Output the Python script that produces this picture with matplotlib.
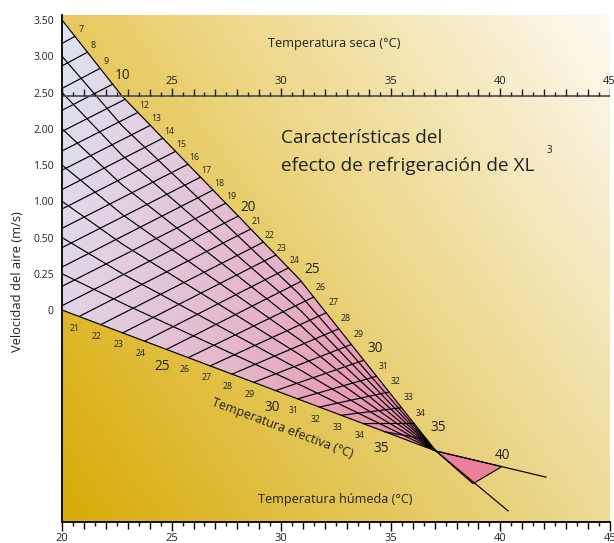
import numpy as np
import matplotlib
matplotlib.use('Agg')
import matplotlib.pyplot as plt
from matplotlib.colors import LinearSegmentedColormap, to_rgb
from matplotlib.patches import Polygon
from matplotlib.collections import LineCollection

plt.rcParams['font.family'] = ['Open Sans', 'DejaVu Sans']

# ---------------- data ----------------
velocity_labels = ['0', '0.25', '0.50', '1.00', '1.50', '2.00', '2.50', '3.00', '3.50']
velocity_pos = [0, 1, 2, 3, 4, 5, 6, 7, 8]

temp_ticks = [20, 25, 30, 35, 40, 45]
dry_tick_labels = ['', '25', '30', '35', '40', '45']
wet_tick_labels = ['20', '25', '30', '35', '40', '45']

et_values = [7, 8, 9, 10, 11, 12, 13, 14, 15, 16, 17, 18, 19, 20, 21,
             22, 23, 24, 25, 26, 27, 28, 29, 30, 31, 32, 33, 34, 35]
# dry temperature where each ET line meets the 3.50 m/s line
et_upper_T = [20.59, 21.16, 21.74, 22.31, 22.88, 23.46, 24.03, 24.60, 25.18,
              25.75, 26.32, 26.89, 27.47, 28.04, 28.61, 29.19, 29.76, 30.33,
              30.91, 31.48, 32.05, 32.63, 33.20, 33.77, 34.35, 34.92, 35.49,
              36.06, 36.64]
# wet temperature where each ET line meets the 0 m/s line (lines below 21 run off the scale)
et_lower_T = [6.82, 7.82, 8.81, 9.81, 10.81, 11.80, 12.80, 13.80, 14.79,
              15.79, 16.79, 17.79, 18.78, 19.78, 20.78, 21.77, 22.77, 23.77,
              24.77, 25.76, 26.76, 27.76, 28.75, 29.75, 30.75, 31.74, 32.74,
              33.74, 34.73]
et_upper_labels = [7, 8, 9, 10, 12, 13, 14, 15, 16, 17, 18, 19, 20, 21, 22,
                   23, 24, 25, 26, 27, 28, 29, 30, 31, 32, 33, 34, 35]
et_lower_labels = [21, 22, 23, 24, 25, 26, 27, 28, 29, 30, 31, 32, 33, 34, 35]
big_labels = [10, 20, 25, 30, 35, 40]

# 3.50 m/s line (upper edge) and convergence point
upper_T = [20.0, 22.74, 30.86, 37.06]
upper_y = [8.0, 5.90, 0.83, -3.89]
conv_T, conv_y = 37.06, -3.89
dry_axis_y = 5.90

# beyond the convergence point (ET 40 wedge)
ext_a_T, ext_a_y = 42.08, -4.61
ext_b_T, ext_b_y = 40.35, -5.54
et40_a = (40.07, -4.32)
et40_b = (38.75, -4.79)

YMIN, YMAX = -5.848, 8.138

def lower_y(T):
    T = np.asarray(T, float)
    return conv_y * (T - 20.0) / (conv_T - 20.0)

def upper_yf(T):
    return np.interp(T, upper_T, upper_y)

# ---------------- figure ----------------
fig = plt.figure(figsize=(6.14, 5.43), dpi=100)
ax = fig.add_axes([62 / 614, 21 / 543, 548 / 614, 507 / 543])
ax.set_xlim(20, 45)
ax.set_ylim(YMIN, YMAX)

# background gradient
W, H = 400, 400
X, Y = np.meshgrid(np.linspace(0, 1, W), np.linspace(0, 1, H))
c_bl = np.array(to_rgb('#d7aa05'))
c_br = np.array(to_rgb('#ecda96'))
c_tl = np.array(to_rgb('#e8c95e'))
c_tr = np.array(to_rgb('#fdfaf2'))
img = (c_bl * ((1 - X) * (1 - Y))[..., None] + c_br * (X * (1 - Y))[..., None]
       + c_tl * ((1 - X) * Y)[..., None] + c_tr * (X * Y)[..., None])
ax.imshow(img, extent=[20, 45, YMIN, YMAX], origin='lower', aspect='auto',
          zorder=0, interpolation='bilinear')

# grid region fill (gradient clipped to region)
Tb = np.linspace(20, conv_T, 300)
poly_pts = np.vstack([np.column_stack([Tb, upper_yf(Tb)]),
                      np.column_stack([Tb[::-1], lower_y(Tb[::-1])])])
region = Polygon(poly_pts, closed=True, facecolor='none', edgecolor='none',
                 transform=ax.transData)
ax.add_patch(region)
cmap = LinearSegmentedColormap.from_list(
    'g', [(0.0, '#dde4f2'), (0.17, '#e1d5e6'), (0.63, '#e6aec4'), (1.0, '#ea84a0')])
Xg, Yg = np.meshgrid(np.linspace(20, conv_T, W), np.linspace(conv_y, 8.0, H))
t = 0.75 * (Xg - 20) / (conv_T - 20) + 0.25 * (8.0 - Yg) / (8.0 - conv_y)
im2 = ax.imshow(cmap(np.clip(t, 0, 1)), extent=[20, conv_T, conv_y, 8.0],
                origin='lower', aspect='auto', zorder=1, interpolation='bilinear')
im2.set_clip_path(region)

# ET 40 wedge
wedge = Polygon([(conv_T, conv_y), et40_a, et40_b], closed=True,
                facecolor='#ec7f99', edgecolor='black', lw=0.8, zorder=2)
ax.add_patch(wedge)

LW = 0.85
# velocity lines
for k in velocity_pos:
    yk = lower_y(Tb) + (k / 8.0) * (upper_yf(Tb) - lower_y(Tb))
    ax.plot(Tb, yk, color='black', lw=LW, zorder=3, solid_capstyle='butt')

# ET lines
for e, tu, tl in zip(et_values, et_upper_T, et_lower_T):
    ax.plot([tl, tu], [lower_y(tl), upper_yf(tu)], color='black', lw=LW, zorder=3)

# extension lines past the convergence point
ax.plot([conv_T, ext_a_T], [conv_y, ext_a_y], color='black', lw=LW, zorder=3)
ax.plot([conv_T, ext_b_T], [conv_y, ext_b_y], color='black', lw=LW, zorder=3)

# ET labels
tu_map = dict(zip(et_values, et_upper_T))
tl_map = dict(zip(et_values, et_lower_T))
for e in et_upper_labels:
    big = e in big_labels
    tu = tu_map[e]
    off = (10, 9) if big else (6, 7)
    if tu > 30.5:
        off = (off[0] + 1, off[1] + 3)
    ax.annotate(str(e), xy=(tu, upper_yf(tu)), xytext=off, textcoords='offset pixels',
                ha='center', va='center', fontsize=9.8 if big else 6.3,
                color='#222222', zorder=5)
for e in et_lower_labels:
    big = e in big_labels
    tl = tl_map[e]
    off = (-4, -17) if big else (-4, -12)
    ax.annotate(str(e), xy=(tl, float(lower_y(tl))), xytext=off, textcoords='offset pixels',
                ha='center', va='center', fontsize=9.8 if big else 6.3,
                color='#222222', zorder=5)
ax.annotate('40', xy=et40_a, xytext=(1, 11), textcoords='offset pixels',
            ha='center', va='center', fontsize=9.8, color='#222222', zorder=5)

# dry temperature axis (top scale inside plot)
ax.plot([20, 45], [dry_axis_y, dry_axis_y], color='#555555', lw=1.3, zorder=4)
px_y = 1 / 36.25
segs = []
for i in range(0, 51):
    T = 20 + 0.5 * i
    if i % 10 == 0:
        L = 8
    elif i % 2 == 0:
        L = 7
    else:
        L = 4
    segs.append([(T, dry_axis_y), (T, dry_axis_y + L * px_y)])
ax.add_collection(LineCollection(segs, colors='#222222', linewidths=1.0, zorder=4))
for T, lab in zip(temp_ticks, dry_tick_labels):
    if lab:
        ax.annotate(lab, xy=(T, dry_axis_y), xytext=(-1 if T == 45 else 0, 15),
                    textcoords='offset pixels',
                    ha='center', va='center', fontsize=8, color='#222222', zorder=5)

# bottom (wet temperature) axis
ax.set_xticks(temp_ticks, wet_tick_labels)
ax.tick_params(axis='x', length=0, pad=8, labelsize=8, labelcolor='#222222')
segs = []
for i in range(0, 51):
    T = 20 + 0.5 * i
    if i % 10 == 0:
        L = 9
    elif i % 2 == 0:
        L = 7
    else:
        L = 4
    segs.append([(T, YMIN), (T, YMIN - L * px_y)])
ax.add_collection(LineCollection(segs, colors='black', linewidths=1.0, zorder=4,
                                 clip_on=False))

ax.set_yticks(velocity_pos, velocity_labels)
ax.tick_params(axis='y', length=0, pad=6, labelsize=7.5, labelcolor='#222222')

for s in ['top', 'right']:
    ax.spines[s].set_visible(False)
ax.spines['left'].set_linewidth(1.3)
ax.spines['bottom'].set_linewidth(1.3)
ax.spines['left'].set_zorder(6)
ax.spines['bottom'].set_zorder(6)

# texts
ax.text(32.41, 7.34, 'Temperatura seca (°C)', ha='center', va='center',
        fontsize=9.2, color='#222222', zorder=5)
ax.text(32.45, -5.24, 'Temperatura húmeda (°C)', ha='center', va='center',
        fontsize=9.1, color='#222222', zorder=5)
ax.text(30.04, -3.255, 'Temperatura efectiva (°C)', ha='center', va='center',
        rotation=-20.6, rotation_mode='anchor', fontsize=9.0, color='#222222', zorder=5)
ax.text(29.99, 4.745, 'Características del', ha='left', va='center',
        fontsize=13.7, color='#222222', zorder=5)
ax.text(29.99, 3.98, 'efecto de refrigeración de XL', ha='left', va='center',
        fontsize=13.7, color='#222222', zorder=5)
ax.text(42.22, 4.41, '3', ha='center', va='center', fontsize=7, color='#222222', zorder=5)
fig.text(18 / 614, 1 - 282 / 543, 'Velocidad del aire (m/s)', rotation=90,
         ha='center', va='center', fontsize=9.3, color='#222222')

fig.savefig('out.png', dpi=100)
